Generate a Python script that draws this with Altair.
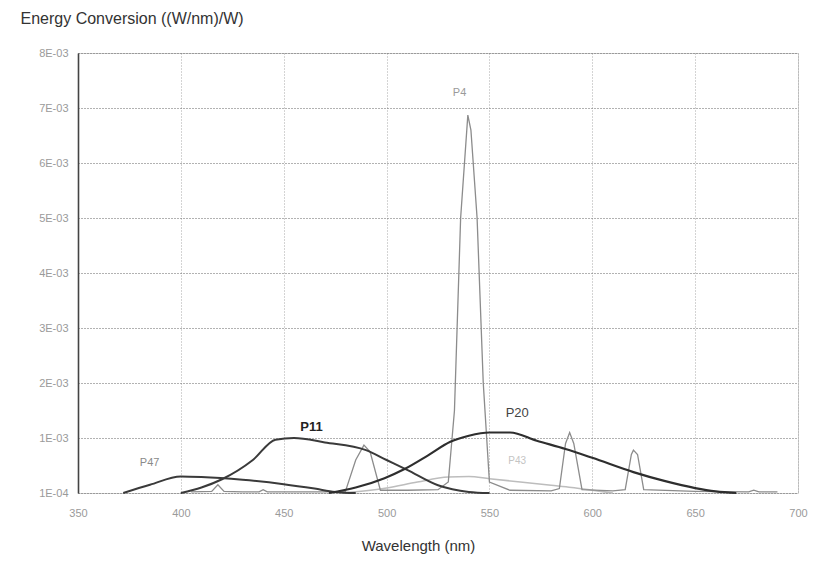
import altair as alt
import pandas as pd

# ---- data (values in (W/nm)/W) ----
p47_wl = [372, 385, 400, 410, 430, 450, 465, 475, 485]
p47_v = [0, 0.15e-3, 0.30e-3, 0.29e-3, 0.24e-3, 0.16e-3, 0.08e-3, 0.02e-3, 0]

p11_wl = [400, 410, 420, 435, 446, 455, 470, 490, 500, 510, 525, 540, 550]
p11_v = [0, 0.10e-3, 0.25e-3, 0.60e-3, 0.97e-3, 1.00e-3, 0.92e-3, 0.78e-3, 0.60e-3, 0.42e-3, 0.14e-3, 0.02e-3, 0]

p20_wl = [472, 485, 499, 509, 520, 531, 540, 550, 560, 573, 587, 600, 620, 635, 650, 660, 670]
p20_v = [0, 0.10e-3, 0.27e-3, 0.44e-3, 0.68e-3, 0.93e-3, 1.04e-3, 1.10e-3, 1.10e-3, 0.95e-3, 0.80e-3,
         0.64e-3, 0.38e-3, 0.22e-3, 0.09e-3, 0.03e-3, 0]

p43_wl = [478, 490, 500, 515, 530, 540, 550, 565, 580, 590, 600, 610]
p43_v = [0, 0.04e-3, 0.09e-3, 0.20e-3, 0.29e-3, 0.30e-3, 0.26e-3, 0.20e-3, 0.14e-3, 0.10e-3, 0.05e-3, 0]

p4_wl = [405, 415, 418, 421, 430, 438, 440, 442, 470, 480, 485, 489, 492, 497, 510, 525, 530, 533, 536,
         539.5, 541, 544, 547, 550, 560, 580, 584, 587, 589, 591, 595, 610, 616, 619, 620, 622, 625,
         650, 676, 678.5, 681, 690]
p4_v = [0.02e-3, 0.03e-3, 0.15e-3, 0.03e-3, 0.02e-3, 0.02e-3, 0.06e-3, 0.02e-3, 0.02e-3, 0.03e-3,
        0.60e-3, 0.87e-3, 0.75e-3, 0.05e-3, 0.05e-3, 0.06e-3, 0.20e-3, 1.50e-3, 5.00e-3,
        6.87e-3, 6.60e-3, 5.00e-3, 2.00e-3, 0.20e-3, 0.05e-3, 0.04e-3, 0.08e-3, 0.90e-3, 1.10e-3,
        0.90e-3, 0.06e-3, 0.04e-3, 0.06e-3, 0.70e-3, 0.78e-3, 0.70e-3, 0.06e-3,
        0.03e-3, 0.02e-3, 0.05e-3, 0.02e-3, 0.02e-3]

label_text = ["P4", "P11", "P20", "P47", "P43"]
label_wl = [535.5, 463.5, 563.5, 384.8, 563.5]
label_v = [7.27e-3, 1.20e-3, 1.45e-3, 0.55e-3, 0.58e-3]
label_color = ["#9a9a9a", "#222222", "#444444", "#8a8a8a", "#c4c4c4"]
label_size = [11, 13, 13, 11, 10]
label_weight = ["normal", "bold", "normal", "normal", "normal"]

x_ticks = [350, 400, 450, 500, 550, 600, 650, 700]
y_ticks = [0, 0.001, 0.002, 0.003, 0.004, 0.005, 0.006, 0.007, 0.008]


def frame(wl, v):
    return pd.DataFrame({"wl": wl, "v": v})


xs = alt.Scale(domain=[350, 700], nice=False, zero=False)
ys = alt.Scale(domain=[0, 0.008], nice=False)

x_axis = alt.Axis(
    values=x_ticks, title="Wavelength (nm)", grid=True, gridDash=[1, 2], gridColor="#a8a8a8",
    gridWidth=1, domain=False, ticks=False, labelColor="#9a9a9a", labelFontSize=11,
    labelFont="Liberation Sans", labelPadding=14, labelFlush=False, labelOverlap=False,
    titleFont="Liberation Sans",
    titleFontSize=15, titleFontWeight="normal", titleColor="#333333",
    titleX=340, titleY=52, titleAlign="center", titleBaseline="middle",
)
y_axis = alt.Axis(
    values=y_ticks, title="Energy Conversion ((W/nm)/W)", grid=True, gridDash=[1, 2],
    gridColor="#666666", gridWidth=1.2, domain=True, domainColor="#444444", domainWidth=1.6,
    ticks=False, labelColor="#9a9a9a", labelFontSize=11, labelFont="Liberation Sans",
    labelPadding=10, labelFlush=False, labelOverlap=False,
    labelExpr="datum.value == 0 ? '1E-04' : format(datum.value*1000, 'd') + 'E-03'",
    titleAngle=0, titleX=-58, titleY=-35, titleAlign="left", titleBaseline="middle",
    titleFont="Liberation Sans", titleFontSize=16, titleFontWeight="normal", titleColor="#333333",
)


def line(df, color, width, interp):
    return alt.Chart(df).mark_line(color=color, strokeWidth=width, interpolate=interp).encode(
        x=alt.X("wl:Q", scale=xs, axis=x_axis),
        y=alt.Y("v:Q", scale=ys, axis=y_axis),
    )


layers = [
    line(frame(p43_wl, p43_v), "#bdbdbd", 1.6, "monotone"),
    line(frame(p4_wl, p4_v), "#8c8c8c", 1.3, "linear"),
    line(frame(p47_wl, p47_v), "#3a3a3a", 2.0, "monotone"),
    line(frame(p11_wl, p11_v), "#3a3a3a", 2.0, "monotone"),
    line(frame(p20_wl, p20_v), "#2e2e2e", 2.2, "monotone"),
]

labels = pd.DataFrame({
    "text": label_text, "wl": label_wl, "v": label_v, "color": label_color,
    "size": label_size, "weight": label_weight,
})

for w in ["normal", "bold"]:
    layers.append(
        alt.Chart(labels[labels["weight"] == w]).mark_text(
            font="Liberation Sans", fontWeight=w, align="center", baseline="middle"
        ).encode(
            x=alt.X("wl:Q", scale=xs, axis=x_axis),
            y=alt.Y("v:Q", scale=ys, axis=y_axis),
            text="text:N",
            color=alt.Color("color:N", scale=None),
            size=alt.Size("size:Q", scale=None),
        )
    )

chart = alt.layer(*layers).properties(
    width=720, height=440,
    autosize=alt.AutoSizeParams(type="none"),
    padding={"left": 70, "top": 45, "right": 11, "bottom": 62},
    background="white",
).configure_view(stroke="#d0d0d0", strokeWidth=1)

chart.save("out.html", embed_options={"renderer": "svg", "actions": False})
